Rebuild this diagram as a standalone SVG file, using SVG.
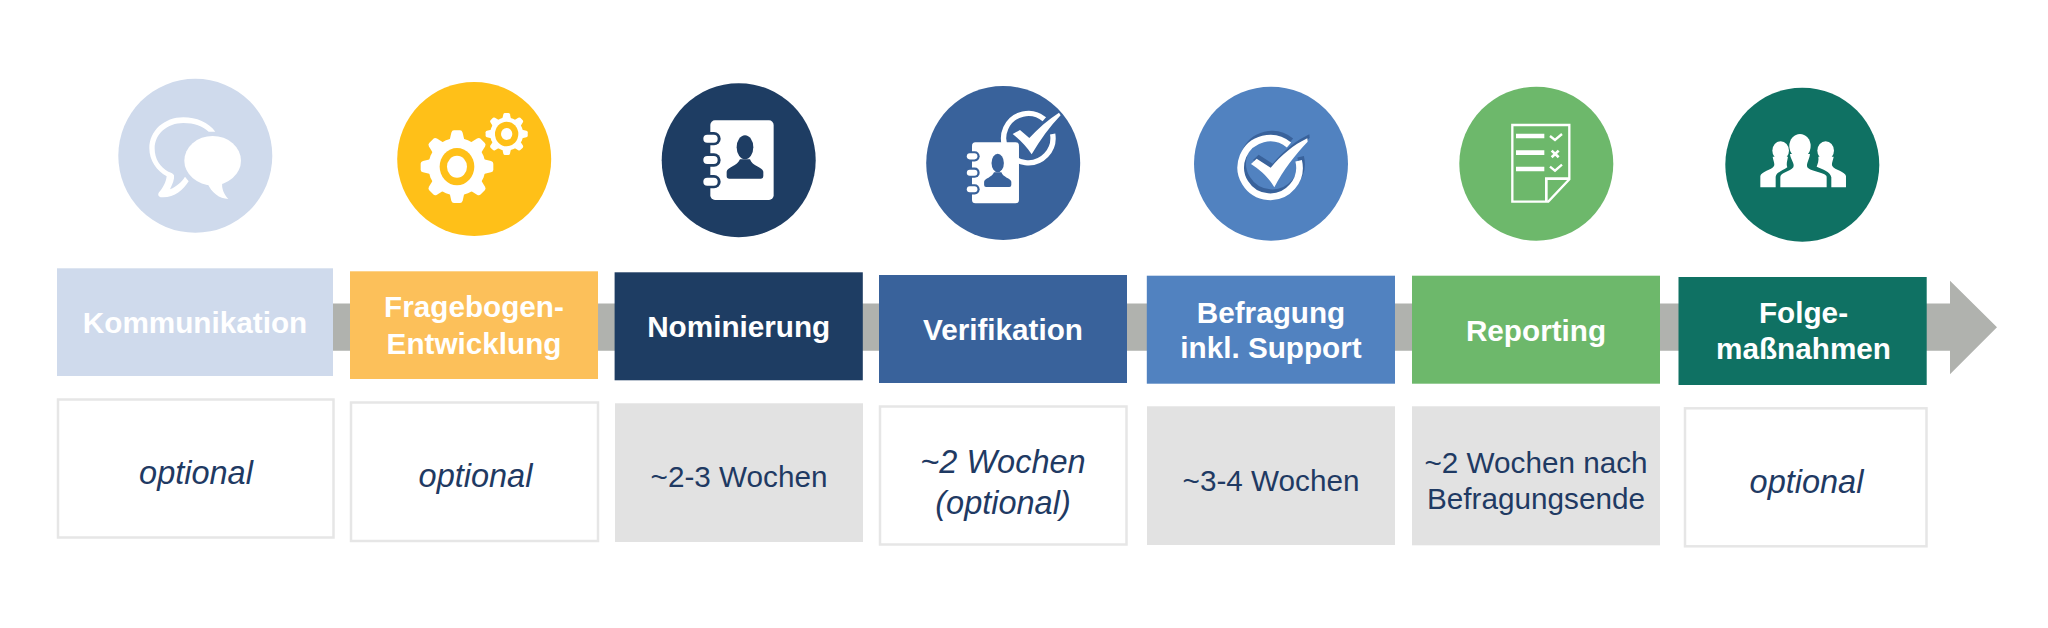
<svg xmlns="http://www.w3.org/2000/svg" xmlns:xlink="http://www.w3.org/1999/xlink" width="2048" height="628" viewBox="0 0 2048 628">
<style>
text{font-family:"Liberation Sans",Arial,sans-serif;text-anchor:middle}
.h{font-size:29.7px;font-weight:700;fill:#fff}
.d{font-size:29.7px;fill:#1f3a63}
.i{font-size:32.5px;font-style:italic;fill:#1f3a63}
.o{fill:#fff;stroke:#e6e6e6;stroke-width:2.5}
.g{fill:#e2e2e2}
.w{fill:#fff}
.c{fill:currentColor}
.ic{fill:none;stroke:#fff}
</style>
<defs>
<g id="gear"><circle r="86" class="w"/><g id="t4"><path id="t" class="w" d="M-22-80L-17-102Q-15-109-9-109L9-109Q15-109 17-102L22-80Z"/><use xlink:href="#t" transform="rotate(90)"/><use xlink:href="#t" transform="rotate(180)"/><use xlink:href="#t" transform="rotate(270)"/></g><use xlink:href="#t4" transform="rotate(45)"/></g>
<g id="book">
<rect class="w" x="181" y="181" width="190" height="239" rx="14"/>
<g id="pills"><rect class="c" x="150" y="216" width="62" height="40" rx="20"/><rect class="w" x="160" y="224" width="43" height="24" rx="12"/></g>
<use xlink:href="#pills" y="64"/><use xlink:href="#pills" y="129"/>
<ellipse class="c" cx="285" cy="262" rx="25" ry="36"/>
<path class="c" d="M230 348V335C232 322 262 318 270 298H300C306 318 338 322 340 335V348Q340 356 332 356H238Q230 356 230 348Z"/>
</g>
</defs>

<g id="connectors">
<path id="timeline-arrow" fill="#b0b2ae" d="M300 303.5H1950V280.7L1997 327.3L1950 374.3V350.7H300Z"/>
</g>

<g id="node-kommunikation">
<circle cx="195.3" cy="155.8" r="77" fill="#cfdaec"/>
<g transform="translate(100 60) scale(.3333)">
<path class="w" d="M346 215C325 187 290 172 250 172C193 172 148 212 148 265C148 302 170 333 200 349C198 368 188 385 177 397C172 404 176 412 185 412C222 414 250 390 266 364L255 350C245 366 232 378 210 388C218 372 224 358 222 346C220 340 214 339 205 335C180 322 164 297 164 265C164 222 202 189 250 189C283 189 308 199 326 215Z"/>
<ellipse class="w" cx="338" cy="302" rx="85" ry="74"/>
<path class="w" d="M322 370C335 398 358 417 385 417C372 402 364 385 367 368Z"/>
</g>
<rect x="57" y="268.3" width="276" height="107.7" fill="#cfdaec"/>
<text class="h" x="195" y="332.7">Kommunikation</text>
<rect class="o" x="58" y="399.5" width="275.5" height="138"/>
<text class="i" x="196" y="484">optional</text>
</g>

<g id="node-fragebogen">
<circle cx="474.2" cy="159" r="77" fill="#ffc018"/>
<g transform="translate(380 60) scale(.3333)">
<use xlink:href="#gear" transform="translate(231 320)"/>
<ellipse cx="231" cy="320" rx="52" ry="56" fill="#ffc018"/>
<ellipse class="w" cx="231" cy="320" rx="30" ry="33"/>
<use xlink:href="#gear" transform="translate(380 222) scale(.58)"/>
<ellipse cx="380" cy="222" rx="35" ry="37" fill="#ffc018"/>
<ellipse class="w" cx="380" cy="222" rx="17" ry="18"/>
</g>
<rect x="350" y="271.3" width="248" height="107.7" fill="#fcc05a"/>
<text class="h" x="474" y="317.3">Fragebogen-</text>
<text class="h" x="474" y="354">Entwicklung</text>
<rect class="o" x="351" y="402.5" width="247" height="138.5"/>
<text class="i" x="475.5" y="487.3">optional</text>
</g>

<g id="node-nominierung" style="color:#1e3d63">
<circle cx="738.7" cy="160.2" r="77" fill="#1e3d63"/>
<g transform="translate(650 60) scale(.3333)"><use xlink:href="#book"/></g>
<rect x="614.6" y="272.3" width="248.2" height="108" fill="#1e3d63"/>
<text class="h" x="738.7" y="337.3">Nominierung</text>
<rect class="g" x="615" y="403.3" width="248" height="138.7"/>
<text class="d" x="739" y="487.3">~2-3 Wochen</text>
</g>

<g id="node-verifikation" style="color:#39629b">
<circle cx="1003.2" cy="163" r="77" fill="#39629b"/>
<g transform="translate(910 60) scale(.3333)">
<path class="ic" stroke-width="16" d="M403 178A74 74 0 1 0 428 222"/>
<path class="w" stroke="#39629b" stroke-width="6" paint-order="stroke" d="M308 222L330 210L358 234C385 205 415 178 447 158L452 166C420 200 390 240 365 283C350 260 330 240 308 222Z"/>
<g transform="translate(186 247) scale(.742 .766) translate(-181 -181)"><use xlink:href="#book"/></g>
</g>
<rect x="879" y="275" width="248" height="108" fill="#39629b"/>
<text class="h" x="1003" y="340">Verifikation</text>
<rect class="o" x="880" y="406.5" width="246.5" height="138"/>
<text class="i" x="1003" y="472.5">~2 Wochen</text>
<text class="i" x="1003" y="514">(optional)</text>
</g>

<g id="node-befragung">
<circle cx="1271" cy="163.7" r="77" fill="#5182c0"/>
<g transform="translate(1180 60) scale(.3333)">
<g transform="translate(6 -12)">
<path fill="none" stroke="#39629b" stroke-width="20" d="M327 255A88 88 0 1 0 356 302"/>
<path fill="#39629b" d="M213 312L230 296L272 323C305 285 340 255 382 235L383 245C345 285 310 330 283 382C265 350 240 330 213 312Z"/>
</g>
<path class="ic" stroke-width="20" d="M327 255A88 88 0 1 0 356 302"/>
<path class="w" d="M213 312L230 296L272 323C305 285 340 255 382 235L383 245C345 285 310 330 283 382C265 350 240 330 213 312Z"/>
</g>
<rect x="1146.8" y="275.7" width="248.2" height="108" fill="#5182c0"/>
<text class="h" x="1271" y="322.7">Befragung</text>
<text class="h" x="1271" y="358.3">inkl. Support</text>
<rect class="g" x="1147" y="406.3" width="248" height="138.7"/>
<text class="d" x="1271" y="490.7">~3-4 Wochen</text>
</g>

<g id="node-reporting">
<circle cx="1536.3" cy="163.7" r="77" fill="#6db86b"/>
<g transform="translate(1450 60) scale(.3333)">
<path class="ic" stroke-width="7" d="M187 195H358V358L295 425H187Z"/>
<path class="ic" stroke-width="8" d="M289 425V356H358"/>
<path class="w" d="M198 221H283V235H198ZM198 271H283V285H198ZM198 320H283V334H198Z"/>
<path class="ic" stroke-width="7" d="M300 228L315 240L336 222M300 320L315 332L336 314"/>
<path class="ic" stroke-width="8" d="M305 272L326 292M326 272L305 292"/>
</g>
<rect x="1412" y="275.7" width="248" height="108" fill="#6db86b"/>
<text class="h" x="1536" y="340.7">Reporting</text>
<rect class="g" x="1412" y="406.3" width="248" height="139"/>
<text class="d" x="1536" y="473">~2 Wochen nach</text>
<text class="d" x="1536" y="509">Befragungsende</text>
</g>

<g id="node-folgemassnahmen">
<circle cx="1802.3" cy="164.7" r="77" fill="#0f7163"/>
<g transform="translate(1700 60) scale(.3333)">
<ellipse class="w" cx="242" cy="272" rx="25" ry="28"/>
<path class="w" d="M181 382V348C183 335 215 330 222 318C225 310 220 302 218 290H264C262 302 258 312 262 322C250 332 230 335 227 350V382Z"/>
<ellipse class="w" cx="377" cy="272" rx="25" ry="28"/>
<path class="w" d="M438 382V348C436 335 404 330 397 318C394 310 399 302 401 290H355C357 302 353 312 350 320C368 328 392 335 394 352V382Z"/>
<ellipse class="w" cx="300" cy="258" rx="32" ry="36"/>
<path class="w" d="M241 382V350C243 338 270 335 280 322C285 310 272 300 270 282H330C328 300 318 310 322 322C332 335 378 338 380 350V382Z"/>
</g>
<rect x="1678.5" y="277" width="248.2" height="108" fill="#0f7163"/>
<text class="h" x="1803.5" y="323.3">Folge-</text>
<text class="h" x="1803.5" y="359.3">maßnahmen</text>
<rect class="o" x="1685" y="408.3" width="241.5" height="138"/>
<text class="i" x="1806.5" y="493.3">optional</text>
</g>
</svg>
